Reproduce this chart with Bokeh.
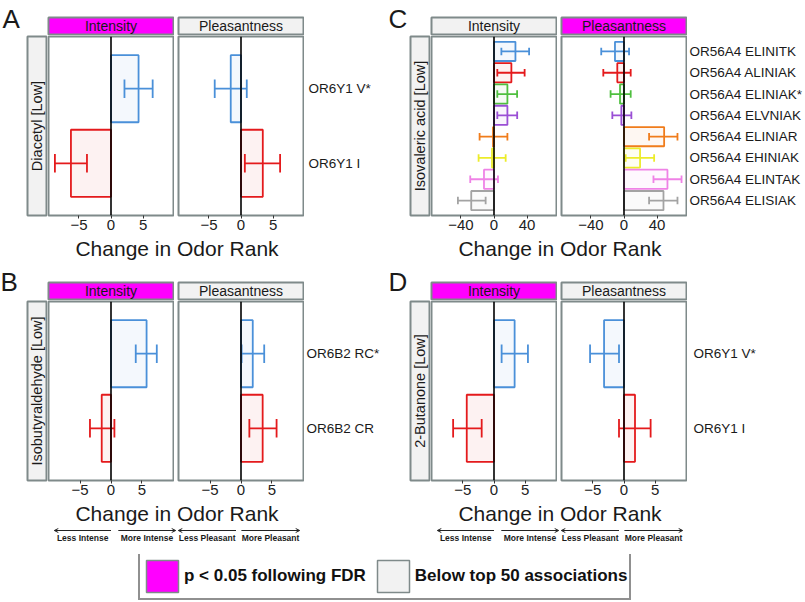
import math
from bokeh.plotting import figure
from bokeh.models import (Range1d, FactorRange, ColumnDataSource, Span, FixedTicker,
                          CustomJSTickFormatter, Spacer, Arrow, OpenHead, Legend, LegendItem)
from bokeh.layouts import row, column
from bokeh.transform import dodge
from bokeh.core.properties import value
from bokeh.embed import file_html
from bokeh.resources import INLINE

FONT = "Liberation Sans"
TXT = "#1a1a1a"
BORDER = "#7f8a8a"
MAGENTA = "#ff00ff"
LIGHT = "#f2f2f2"

BLUE = "#4a90d9"
RED = "#e41a1c"
GREEN = "#4fbf3f"
PURPLE = "#9a4fd5"
ORANGE = "#f07c1b"
YELLOW = "#ecec2a"
PINK = "#ef82e6"
GREY = "#a3a3a3"

FACETS = ["Intensity", "Pleasantness"]

# ---------------- data ----------------
# A: Diacetyl
a_odor = "Diacetyl [Low]"
a_receptors = ["OR6Y1 V*", "OR6Y1 I"]
a_colors = [BLUE, RED]
a_int = [4.3, -6.25]
a_int_lo = [2.1, -8.75]
a_int_hi = [6.5, -3.75]
a_ple = [-1.6, 3.4]
a_ple_lo = [-4.1, 0.6]
a_ple_hi = [0.9, 6.1]
a_sig = ["Intensity"]
a_ticks = [-5, 0, 5]
a_lim = 9.75

# B: Isobutyraldehyde
b_odor = "Isobutyraldehyde [Low]"
b_receptors = ["OR6B2 RC*", "OR6B2 CR"]
b_colors = [BLUE, RED]
b_int = [5.75, -1.5]
b_int_lo = [4.0, -3.4]
b_int_hi = [7.4, 0.55]
b_ple = [1.9, 3.5]
b_ple_lo = [0.1, 1.35]
b_ple_hi = [3.75, 5.75]
b_sig = ["Intensity"]
b_ticks = [-5, 0, 5]
b_lim = 10.1

# C: Isovaleric acid
c_odor = "Isovaleric acid [Low]"
c_receptors = ["OR56A4 ELINITK", "OR56A4 ALINIAK", "OR56A4 ELINIAK*", "OR56A4 ELVNIAK",
               "OR56A4 ELINIAR", "OR56A4 EHINIAK", "OR56A4 ELINTAK", "OR56A4 ELISIAK"]
c_colors = [BLUE, RED, GREEN, PURPLE, ORANGE, YELLOW, PINK, GREY]
c_int = [25.9, 21.0, 16.2, 16.2, -1.2, -2.4, -12.1, -27.5]
c_int_lo = [8.9, 4.0, 4.0, 4.0, -17.4, -18.6, -28.7, -43.6]
c_int_hi = [42.4, 37.0, 27.9, 28.0, 16.2, 14.1, 4.8, -10.1]
c_ple = [-10.9, -8.1, -4.8, -3.2, 48.5, 19.4, 52.5, 47.7]
c_ple_lo = [-27.5, -25.0, -16.2, -14.1, 30.3, 2.0, 35.6, 30.3]
c_ple_hi = [6.1, 8.1, 8.1, 8.9, 64.6, 36.4, 69.5, 64.6]
c_sig = ["Pleasantness"]
c_ticks = [-40, 0, 40]
c_lim = 75.5

# D: 2-Butanone
d_odor = "2-Butanone [Low]"
d_receptors = ["OR6Y1 V*", "OR6Y1 I"]
d_colors = [BLUE, RED]
d_int = [3.3, -4.36]
d_int_lo = [1.22, -6.54]
d_int_hi = [5.43, -1.97]
d_ple = [-3.19, 1.76]
d_ple_lo = [-5.43, -0.8]
d_ple_hi = [-0.8, 4.26]
d_sig = ["Intensity"]
d_ticks = [-5, 0, 5]
d_lim = 10.0

axis_title = "Change in Odor Rank"
arrow_labels = ["Less Intense", "More Intense", "Less Pleasant", "More Pleasant"]
legend_labels = ["p < 0.05 following FDR", "Below top 50 associations"]

# ---------------- layout constants ----------------
PW = 125          # panel frame width
PH = 179          # panel frame height
PB = 21           # panel bottom border (tick labels)
PFIG_H = PH + 1 + PB
STRIP_H = 19
RS_W = 21
GAP = 3
TITLE_H = 26


def bare(w, h, xr, yr, left=0, right=0, top=0, bottom=0):
    p = figure(width=w, height=h, x_range=xr, y_range=yr, toolbar_location=None, tools="",
               output_backend="svg", x_axis_location=None, y_axis_location=None,
               min_border_left=left, min_border_right=right,
               min_border_top=top, min_border_bottom=bottom)
    p.grid.grid_line_color = None
    p.outline_line_color = None
    return p


def strip(text, fill):
    p = bare(PW + 2, STRIP_H, Range1d(0, 1), Range1d(0, 1), 1, 1, 1, 1)
    p.background_fill_color = fill
    p.outline_line_color = BORDER
    p.outline_line_width = 2
    p.text(x=[0.5], y=[0.5], text=[text], text_align="center", text_baseline="middle",
           text_font=value(FONT), text_font_size="14px", text_color=TXT)
    return p


def row_strip(text):
    p = bare(RS_W, PFIG_H, Range1d(0, 1), Range1d(0, 1), 1, 1, 1, PB)
    p.background_fill_color = LIGHT
    p.outline_line_color = BORDER
    p.outline_line_width = 2
    p.text(x=[0.5], y=[0.5], text=[text], angle=math.pi / 2, text_align="center",
           text_baseline="middle", text_font=value(FONT), text_font_size="14.5px",
           text_color=TXT)
    return p


def panel(cats, vals, lo, hi, colors, xr, yr, ticks, cap):
    p = figure(width=PW + 2, height=PFIG_H, x_range=xr, y_range=yr, toolbar_location=None,
               tools="", output_backend="svg", x_axis_location="below", y_axis_location=None,
               min_border_left=1, min_border_right=1, min_border_top=1, min_border_bottom=PB)
    p.grid.grid_line_color = None
    p.outline_line_color = BORDER
    p.outline_line_width = 2
    src = ColumnDataSource(dict(cat=cats, val=vals, lo=lo, hi=hi, color=colors))
    p.hbar(y="cat", left=0, right="val", height=0.9, fill_color="color", fill_alpha=0.06,
           line_color="color", line_width=1.8, source=src)
    p.segment(x0="lo", x1="hi", y0="cat", y1="cat", line_color="color", line_width=1.8,
              source=src)
    for f in ("lo", "hi"):
        p.segment(x0=f, x1=f, y0=dodge("cat", -cap / 2, range=yr),
                  y1=dodge("cat", cap / 2, range=yr), line_color="color", line_width=1.8,
                  source=src)
    p.add_layout(Span(location=0, dimension="height", line_color="black", line_width=1.6))
    ax = p.xaxis[0]
    ax.ticker = FixedTicker(ticks=ticks)
    ax.formatter = CustomJSTickFormatter(
        code="return tick < 0 ? '\u2212' + Math.abs(tick) : String(tick);")
    ax.axis_line_color = None
    ax.major_tick_out = 3
    ax.major_tick_in = 0
    ax.major_tick_line_color = "#333333"
    ax.minor_tick_line_color = None
    ax.major_label_standoff = 1
    ax.major_label_text_font = FONT
    ax.major_label_text_font_size = "15px"
    ax.major_label_text_color = "#222222"
    return p


def labels_fig(cats, yr, w, off):
    p = bare(w, PFIG_H, Range1d(0, w), yr, 0, 0, 1, PB)
    src = ColumnDataSource(dict(cat=cats))
    p.text(x=0, y="cat", text="cat", source=src, x_offset=off, text_align="left",
           text_baseline="middle", text_font=value(FONT), text_font_size="13.5px",
           text_color=TXT)
    return p


def text_fig(w, h, xs, ys, texts, size, style="normal", align="left", baseline="middle"):
    p = bare(w, h, Range1d(0, w), Range1d(h, 0))
    p.text(x=xs, y=ys, text=texts, text_align=align, text_baseline=baseline,
           text_font=value(FONT), text_font_size=size, text_font_style=style,
           text_color=TXT)
    return p


def group(letter, letter_w, letter_xy, band_h, top_pad, odor, cats, colors,
          iv, ilo, ihi, pv, plo, phi, sig, ticks, lim, cap, lab_w, lab_off, arrows):
    cats_rev = list(reversed(cats))
    xr = Range1d(-lim, lim)
    yr = FactorRange(factors=cats_rev, range_padding=0.2, range_padding_units="absolute")
    inner_w = RS_W + (PW + 2) + GAP + (PW + 2) + lab_w
    strips = row(Spacer(width=RS_W, height=STRIP_H),
                 strip(FACETS[0], MAGENTA if FACETS[0] in sig else LIGHT),
                 Spacer(width=GAP, height=STRIP_H),
                 strip(FACETS[1], MAGENTA if FACETS[1] in sig else LIGHT),
                 Spacer(width=lab_w, height=STRIP_H))
    panels = row(row_strip(odor),
                 panel(cats, iv, ilo, ihi, colors, xr, yr, ticks, cap),
                 Spacer(width=GAP, height=PFIG_H),
                 panel(cats, pv, plo, phi, colors, xr, yr, ticks, cap),
                 labels_fig(cats, yr, lab_w, lab_off))
    center = RS_W + 1 + (2 * PW + 4 + GAP) / 2
    title = text_fig(inner_w, TITLE_H, [center], [0.5], [axis_title], "21px",
                     align="center", baseline="top")
    kids = [Spacer(width=inner_w, height=top_pad), strips, panels, title]
    if arrows:
        spans = [(27.8, 84.5, -1), (91.8, 149.2, 1), (151.8, 209.5, -1), (214.9, 273.2, 1)]
        ap = text_fig(inner_w, 22, [(a + b) / 2 for a, b, _ in spans], [10] * 4,
                      arrow_labels, "8.5px", style="bold", align="center")
        for a, b, d in spans:
            xs, xe = (b, a) if d < 0 else (a, b)
            ap.add_layout(Arrow(x_start=xs, y_start=3, x_end=xe, y_end=3, line_width=1,
                                line_color="#222222",
                                end=OpenHead(size=4, line_width=1, line_color="#222222")))
        kids.append(ap)
    inner = column(*kids)
    lf = text_fig(letter_w, band_h, [letter_xy[0]], [letter_xy[1]], [letter], "26px")
    return row(lf, inner)


top = row(
    group("A", 26, (2, 18), 262, 16, a_odor, a_receptors, a_colors, a_int, a_int_lo, a_int_hi,
          a_ple, a_ple_lo, a_ple_hi, a_sig, a_ticks, a_lim, 0.25, 82, 4, False),
    group("C", 23, (2, 18), 262, 16, c_odor, c_receptors, c_colors, c_int, c_int_lo, c_int_hi,
          c_ple, c_ple_lo, c_ple_hi, c_sig, c_ticks, c_lim, 0.35, 118, 2, False),
)
bottom = row(
    group("B", 26, (0, 19), 287, 19, b_odor, b_receptors, b_colors, b_int, b_int_lo, b_int_hi,
          b_ple, b_ple_lo, b_ple_hi, b_sig, b_ticks, b_lim, 0.25, 82, 2, True),
    group("D", 23, (2, 19), 287, 19, d_odor, d_receptors, d_colors, d_int, d_int_lo, d_int_hi,
          d_ple, d_ple_lo, d_ple_hi, d_sig, d_ticks, d_lim, 0.25, 118, 6, True),
)

# legend
lg = bare(805, 47, Range1d(0, 1), Range1d(0, 1))
r1 = lg.rect(x=[-10], y=[-10], width=1, height=1, fill_color=MAGENTA, line_color=BORDER,
             line_width=1.5)
r2 = lg.rect(x=[-10], y=[-10], width=1, height=1, fill_color=LIGHT, line_color=BORDER,
             line_width=1.5)
leg = Legend(items=[LegendItem(label=legend_labels[0], renderers=[r1]),
                    LegendItem(label=legend_labels[1], renderers=[r2])],
             orientation="horizontal", location=(138, 1), margin=0, padding=2,
             spacing=7, label_standoff=2, glyph_width=40, glyph_height=40,
             label_text_font=FONT, label_text_font_size="17px",
             label_text_font_style="bold", label_text_color="#111111",
             border_line_color="#222222", border_line_width=2,
             background_fill_color="white", background_fill_alpha=1)
lg.add_layout(leg, "center")

root = column(top, bottom, Spacer(width=805, height=5), lg)

open("out.html", "w").write(file_html(root, INLINE))
